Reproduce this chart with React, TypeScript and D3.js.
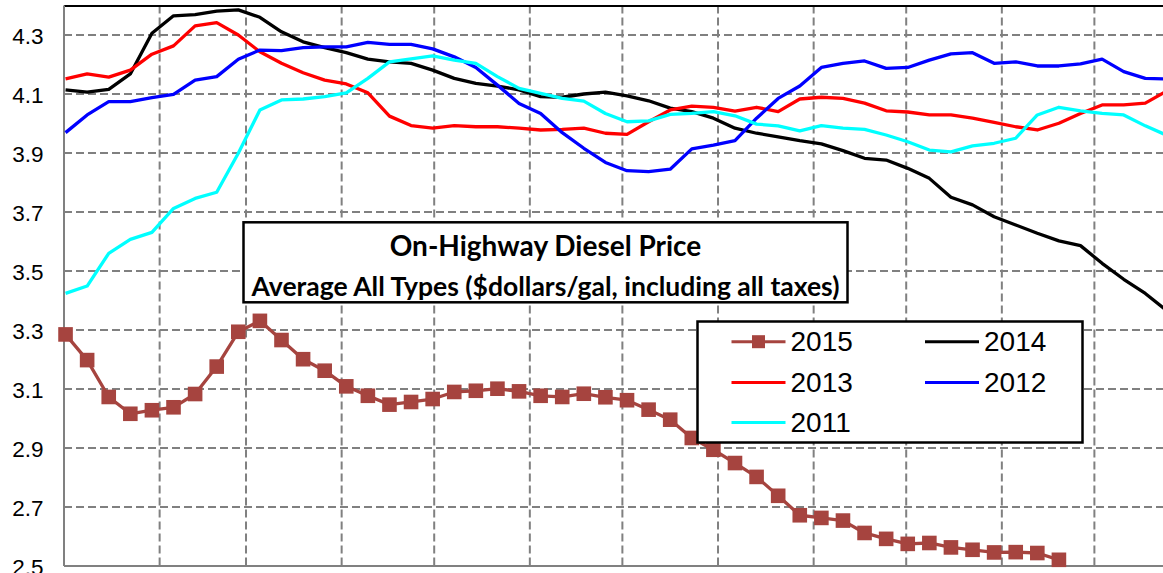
import React from "react";
import * as d3 from "d3";

// ---- data (weekly averages, $/gal) ----
const seriesNames = ["2015", "2014", "2013", "2012", "2011"];
const seriesColors = ["#A6443F", "#000000", "#FF0000", "#0000FF", "#00FFFF"];

const v2015 = [3.285, 3.198, 3.073, 3.016, 3.028, 3.038, 3.083, 3.176, 3.294, 3.331, 3.266, 3.201, 3.162, 3.109, 3.077, 3.047, 3.056, 3.066, 3.090, 3.094, 3.101, 3.092, 3.077, 3.073, 3.084, 3.072, 3.062, 3.030, 2.996, 2.934, 2.894, 2.849, 2.802, 2.738, 2.672, 2.663, 2.654, 2.612, 2.592, 2.575, 2.578, 2.563, 2.555, 2.546, 2.547, 2.544, 2.521];
const v2014 = [4.114, 4.106, 4.116, 4.168, 4.306, 4.365, 4.369, 4.381, 4.385, 4.360, 4.311, 4.277, 4.257, 4.240, 4.218, 4.209, 4.204, 4.181, 4.153, 4.136, 4.127, 4.114, 4.091, 4.089, 4.100, 4.106, 4.094, 4.077, 4.052, 4.040, 4.018, 3.984, 3.967, 3.955, 3.942, 3.931, 3.908, 3.882, 3.876, 3.848, 3.814, 3.750, 3.724, 3.684, 3.656, 3.628, 3.602, 3.586, 3.526, 3.472, 3.424, 3.365];
const v2013 = [4.151, 4.168, 4.157, 4.181, 4.235, 4.263, 4.331, 4.342, 4.300, 4.243, 4.204, 4.172, 4.147, 4.134, 4.104, 4.025, 3.993, 3.984, 3.993, 3.989, 3.989, 3.984, 3.978, 3.980, 3.984, 3.967, 3.963, 4.006, 4.046, 4.059, 4.055, 4.042, 4.055, 4.040, 4.083, 4.089, 4.085, 4.069, 4.043, 4.039, 4.029, 4.029, 4.018, 4.004, 3.989, 3.978, 4.001, 4.034, 4.063, 4.063, 4.069, 4.110];
const v2012 = [3.969, 4.029, 4.074, 4.074, 4.088, 4.099, 4.147, 4.159, 4.218, 4.249, 4.247, 4.257, 4.260, 4.260, 4.275, 4.268, 4.268, 4.253, 4.226, 4.190, 4.130, 4.068, 4.034, 3.969, 3.916, 3.868, 3.840, 3.837, 3.845, 3.914, 3.927, 3.942, 4.018, 4.085, 4.127, 4.190, 4.204, 4.212, 4.187, 4.190, 4.215, 4.236, 4.240, 4.204, 4.209, 4.195, 4.195, 4.202, 4.218, 4.176, 4.153, 4.151];
const v2011 = [3.424, 3.449, 3.560, 3.607, 3.631, 3.712, 3.746, 3.767, 3.899, 4.046, 4.080, 4.083, 4.091, 4.104, 4.153, 4.209, 4.219, 4.229, 4.215, 4.204, 4.159, 4.119, 4.102, 4.085, 4.076, 4.034, 4.006, 4.009, 4.031, 4.034, 4.040, 4.026, 3.998, 3.992, 3.975, 3.993, 3.984, 3.980, 3.961, 3.938, 3.910, 3.904, 3.924, 3.933, 3.950, 4.029, 4.055, 4.043, 4.034, 4.029, 3.992, 3.960];
const seriesValues = [v2015, v2014, v2013, v2012, v2011];

const yTicks = [2.5, 2.7, 2.9, 3.1, 3.3, 3.5, 3.7, 3.9, 4.1, 4.3];
const monthStartDays = [31, 59, 90, 120, 151, 181, 212, 243, 273, 304, 334];

const titleLine1 = "On-Highway Diesel Price";
const titleLine2 = "Average All Types ($dollars/gal, including all taxes)";

// ---- layout ----
const W = 1163;
const H = 573;
const plotLeft = 64;
const plotTop = 5.5;
const plotBottom = 566;
const pxPerDay = 3.085;

export default function App() {
  const x = d3.scaleLinear().domain([0, 365]).range([plotLeft, plotLeft + 365 * pxPerDay]);
  const y = d3.scaleLinear().domain([2.5, 4.4]).range([plotBottom, plotTop]);
  const weekDay = (i: number) => 0.5 + 7 * i;

  const line = d3
    .line<number>()
    .x((_, i) => x(weekDay(i)))
    .y((v) => y(v));

  const grid = "#808080";
  const dash = "8,4";

  const drawOrder = [0, 1, 2, 3, 4];

  // legend layout
  const lgX = 697.5, lgY = 321.5, lgW = 385, lgH = 121;
  const legendCols = [731.5, 925];
  const rowY = [341.7, 382.5, 422.5];

  return (
    <svg
      width={W}
      height={H}
      style={{ position: "absolute", left: 0, top: 0, background: "#fff" }}
      xmlns="http://www.w3.org/2000/svg"
    >
      <rect x={0} y={0} width={W} height={H} fill="#fff" />
      {/* horizontal gridlines */}
      {yTicks.slice(1).map((t) => (
        <line key={"h" + t} x1={plotLeft} x2={W} y1={y(t)} y2={y(t)} stroke={grid} strokeWidth={2} strokeDasharray={dash} />
      ))}
      {/* vertical gridlines */}
      {monthStartDays.map((d) => (
        <line key={"v" + d} x1={x(d)} x2={x(d)} y1={plotTop} y2={plotBottom} stroke={grid} strokeWidth={2} strokeDasharray={dash} />
      ))}
      {/* plot frame */}
      <line x1={plotLeft} x2={W} y1={plotTop + 0.5} y2={plotTop + 0.5} stroke="#000" strokeWidth={2} />
      <line x1={plotLeft} x2={plotLeft} y1={plotTop} y2={plotBottom} stroke={grid} strokeWidth={2} />
      <line x1={plotLeft} x2={W} y1={plotBottom} y2={plotBottom} stroke={grid} strokeWidth={2} />
      {/* y tick labels */}
      {yTicks.map((t) => (
        <text key={"t" + t} x={43.5} y={y(t) + 8.5} textAnchor="end" fontFamily="'Liberation Sans', Arial, sans-serif" fontSize={22.5} fill="#000">
          {t.toFixed(1)}
        </text>
      ))}
      {/* series */}
      {drawOrder.map((k) => (
        <path key={"s" + k} d={line(seriesValues[k]) || ""} fill="none" stroke={seriesColors[k]} strokeWidth={3.3} strokeLinejoin="round" />
      ))}
      {v2015.map((v, i) => (
        <rect key={"m" + i} x={x(weekDay(i)) - 7.3} y={y(v) - 7.3} width={14.6} height={14.6} fill={seriesColors[0]} />
      ))}
      {/* title box */}
      <rect x={243.5} y={222.3} width={604} height={80} fill="#fff" stroke="#000" strokeWidth={2.5} />
      <text x={545.5} y={255.5} textAnchor="middle" fontFamily="Lato, 'Open Sans', sans-serif" fontWeight="bold" fontSize={28} fill="#000">
        {titleLine1}
      </text>
      <text x={545.5} y={296} textAnchor="middle" fontFamily="Lato, 'Open Sans', sans-serif" fontWeight="bold" fontSize={26.5} fill="#000">
        {titleLine2}
      </text>
      {/* legend */}
      <rect x={lgX} y={lgY} width={lgW} height={lgH} fill="#fff" stroke="#000" strokeWidth={2.5} />
      {seriesNames.map((name, k) => {
        const col = k % 2;
        const row = Math.floor(k / 2);
        const lx = legendCols[col];
        const ly = rowY[row];
        return (
          <g key={"lg" + name}>
            <line x1={lx} x2={lx + 54} y1={ly} y2={ly} stroke={seriesColors[k]} strokeWidth={3} />
            {k === 0 && <rect x={lx + 27 - 6.5} y={ly - 6.5} width={13} height={13} fill={seriesColors[0]} />}
            <text x={lx + 59} y={ly + 9.5} fontFamily="'Liberation Sans', Arial, sans-serif" fontSize={28} fill="#000">
              {name}
            </text>
          </g>
        );
      })}
    </svg>
  );
}
